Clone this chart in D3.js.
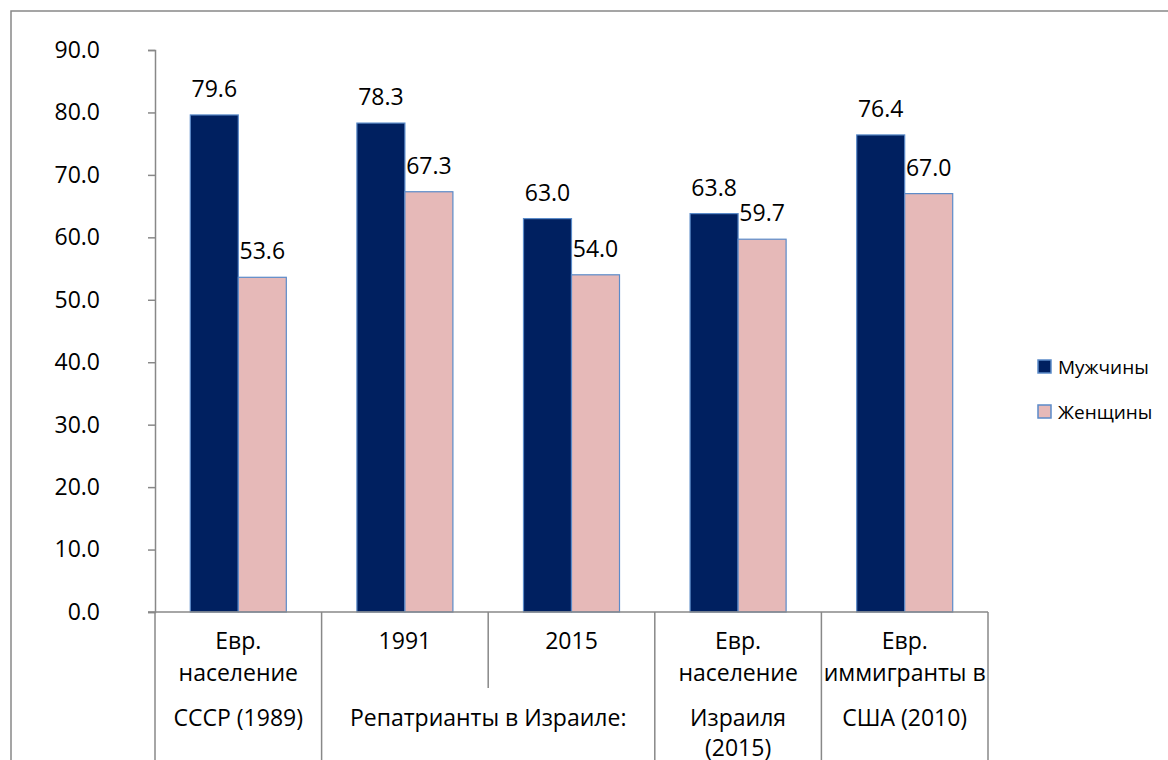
<!DOCTYPE html>
<html>
<head>
<meta charset="utf-8">
<script src="https://cdn.jsdelivr.net/npm/d3@7"></script>
<style>
    body { margin: 0; background: #fff; }
    svg { display: block; font-family: 'Open Sans', sans-serif; }
</style>
</head>
<body>
<div id="chart"></div>
<script>
// Chart data
const categories = ['c1', 'c2', 'c3', 'c4', 'c5'];
const innerLabels = [['Евр.', 'население'], ['1991'], ['2015'], ['Евр.', 'население'], ['Евр.', 'иммигранты в']];
const outerLabels = [
    { lines: ['СССР (1989)'], from: 0, to: 1 },
    { lines: ['Репатрианты в Израиле:'], from: 1, to: 3 },
    { lines: ['Израиля', '(2015)'], from: 3, to: 4 },
    { lines: ['США (2010)'], from: 4, to: 5 }
];
const seriesNames = ['Мужчины', 'Женщины'];
const menValues = [79.6, 78.3, 63.0, 63.8, 76.4];
const womenValues = [53.6, 67.3, 54.0, 59.7, 67.0];
const yTicks = [0, 10, 20, 30, 40, 50, 60, 70, 80, 90];

const colors = ['#002060', '#E6B9B8'];
const barStroke = '#5B8BC9';
const axisColor = '#888888';
const fontSize = '23px';

const width = 1168;
const height = 760;

const svg = d3.select('#chart')
    .append('svg')
    .attr('width', width)
    .attr('height', height);

// Outer frame (runs off the right and bottom edges)
svg.append('rect')
    .attr('x', 11)
    .attr('y', 11)
    .attr('width', 1200)
    .attr('height', 800)
    .attr('fill', 'none')
    .attr('stroke', axisColor)
    .attr('stroke-width', 1.5);

// Scales
const x0 = d3.scaleBand()
    .domain(categories)
    .range([155, 988]);

const x1 = d3.scaleBand()
    .domain(seriesNames)
    .range([0, x0.bandwidth()])
    .paddingOuter(0.735);

const y = d3.scaleLinear()
    .domain([0, 90])
    .range([612, 50]);

// Y axis
const yAxis = svg.append('g')
    .attr('transform', 'translate(155,0)')
    .call(d3.axisLeft(y)
        .tickValues(yTicks)
        .tickFormat(d3.format('.1f'))
        .tickSize(7)
        .tickPadding(48));

yAxis.select('.domain').attr('stroke', axisColor).attr('stroke-width', 1.5);
yAxis.selectAll('.tick line').attr('stroke', axisColor).attr('stroke-width', 1.5);
yAxis.selectAll('.tick text')
    .attr('fill', '#000')
    .attr('font-size', fontSize)
    .attr('font-family', "'Open Sans', sans-serif");

// Bars
const rows = categories.map((c, i) => ({ cat: c, values: [menValues[i], womenValues[i]] }));

const groups = svg.selectAll('.group')
    .data(rows)
    .enter()
    .append('g')
    .attr('transform', d => `translate(${x0(d.cat)},0)`);

groups.selectAll('rect')
    .data(d => d.values.map((v, j) => ({ name: seriesNames[j], value: v, idx: j })))
    .enter()
    .append('rect')
    .attr('x', d => x1(d.name))
    .attr('y', d => y(d.value))
    .attr('width', x1.bandwidth())
    .attr('height', d => y(0) - y(d.value))
    .attr('fill', d => colors[d.idx])
    .attr('stroke', barStroke)
    .attr('stroke-width', 1.2);

// Value labels
groups.selectAll('.val')
    .data(d => d.values.map((v, j) => ({ name: seriesNames[j], value: v })))
    .enter()
    .append('text')
    .attr('x', d => x1(d.name) + x1.bandwidth() / 2)
    .attr('y', d => y(d.value) - 18)
    .attr('text-anchor', 'middle')
    .attr('font-size', fontSize)
    .attr('fill', '#000')
    .text(d => d.value.toFixed(1));

// Category axis line
svg.append('line')
    .attr('x1', 148)
    .attr('x2', 988)
    .attr('y1', y(0))
    .attr('y2', y(0))
    .attr('stroke', axisColor)
    .attr('stroke-width', 1.5);

// Dividers between categories
const boundaries = [0, 1, 2, 3, 4, 5];
const shortDividers = [2];
svg.selectAll('.divider')
    .data(boundaries)
    .enter()
    .append('line')
    .attr('x1', d => 155 + d * x0.step())
    .attr('x2', d => 155 + d * x0.step())
    .attr('y1', y(0))
    .attr('y2', d => shortDividers.includes(d) ? 688 : height)
    .attr('stroke', axisColor)
    .attr('stroke-width', 1.5);

// Inner (first level) labels
innerLabels.forEach((lines, i) => {
    const cx = x0(categories[i]) + x0.bandwidth() / 2;
    lines.forEach((line, k) => {
        svg.append('text')
            .attr('x', cx)
            .attr('y', 641 + k * 32)
            .attr('dy', '0.35em')
            .attr('text-anchor', 'middle')
            .attr('font-size', fontSize)
            .attr('fill', '#000')
            .text(line);
    });
});

// Outer (second level) labels
outerLabels.forEach(lbl => {
    const cx = 155 + (lbl.from + lbl.to) / 2 * x0.step();
    lbl.lines.forEach((line, k) => {
        svg.append('text')
            .attr('x', cx)
            .attr('y', 718 + k * 30)
            .attr('dy', '0.35em')
            .attr('text-anchor', 'middle')
            .attr('font-size', fontSize)
            .attr('fill', '#000')
            .text(line);
    });
});

// Legend
const legend = svg.append('g')
    .attr('transform', 'translate(1038,360)');

seriesNames.forEach((name, i) => {
    const row = legend.append('g')
        .attr('transform', `translate(0,${i * 45})`);

    row.append('rect')
        .attr('width', 13)
        .attr('height', 13)
        .attr('fill', colors[i])
        .attr('stroke', barStroke)
        .attr('stroke-width', 1.5);

    row.append('text')
        .attr('x', 20)
        .attr('y', 7)
        .attr('dy', '0.35em')
        .attr('font-size', '19px')
        .attr('fill', '#000')
        .text(name);
});
</script>
</body>
</html>
